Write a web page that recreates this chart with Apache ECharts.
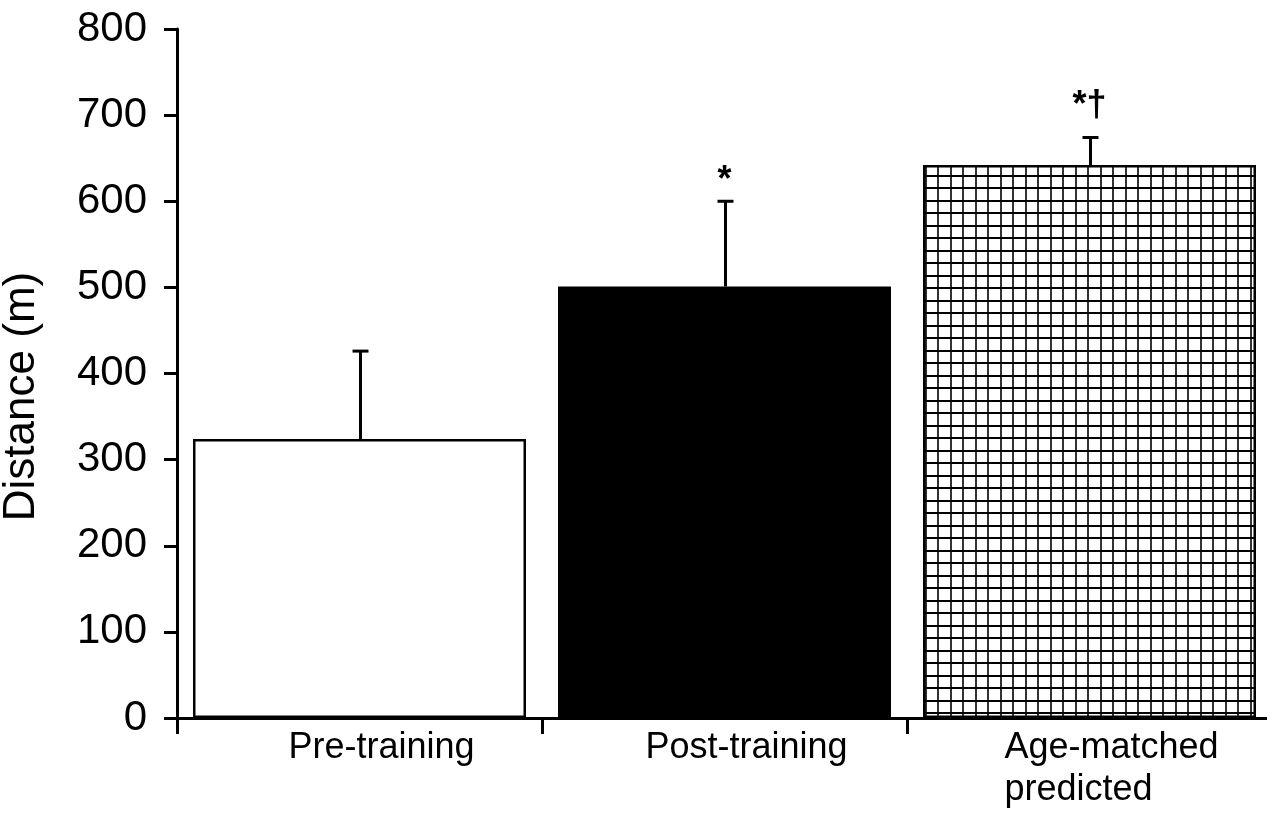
<!DOCTYPE html>
<html>
<head>
<meta charset="utf-8">
<script src="https://cdn.jsdelivr.net/npm/echarts@6/dist/echarts.min.js"></script>
<style>
html,body{margin:0;padding:0;background:#fff;}
#chart{width:1267px;height:813px;}
</style>
</head>
<body>
<div id="chart"></div>
<script>
const categories = ['Pre-training', 'Post-training', 'Age-matched\npredicted'];
const means = [324, 501, 642];
const upperErrors = [426, 600, 674];
const annotations = ['', '*', '*\u2020'];
const yTicks = [0, 100, 200, 300, 400, 500, 600, 700, 800];

// hatch pattern for third bar
const pat = document.createElement('canvas');
pat.width = 25; pat.height = 25;
const pc = pat.getContext('2d');
pc.fillStyle = '#fff'; pc.fillRect(0, 0, 25, 25);
pc.fillStyle = '#333';
pc.fillRect(0, 0, 2, 25); pc.fillRect(12, 0, 2, 25);
pc.fillStyle = '#000';
pc.fillRect(0, 0, 25, 2); pc.fillRect(0, 12, 25, 2);

const fills = ['#ffffff', '#000000', { image: pat, repeat: 'repeat' }];
const annotLift = [0, 2, 13];

const chart = echarts.init(document.getElementById('chart'));
const FONT = '"Liberation Sans", Arial, sans-serif';

chart.setOption({
  animation: false,
  backgroundColor: '#fff',
  grid: { left: 177, right: -5, top: 29, bottom: 95, containLabel: false, outerBoundsMode: 'none' },
  xAxis: {
    type: 'category',
    data: categories,
    axisLine: { lineStyle: { color: '#000', width: 3 } },
    axisTick: { show: true, length: 16, lineStyle: { color: '#000', width: 3 } },
    axisLabel: {
      margin: 9,
      padding: [0, 0, 0, 44],
      formatter: v => v.split('\n').map(s => '{a|' + s + '}').join('\n'),
      rich: { a: { fontFamily: FONT, fontSize: 36, color: '#000', align: 'left', lineHeight: 42 } }
    },
    splitLine: { show: false }
  },
  yAxis: {
    type: 'value',
    min: yTicks[0], max: yTicks[yTicks.length - 1], interval: 100,
    name: 'Distance (m)',
    nameLocation: 'middle',
    nameGap: 133,
    nameRotate: 90,
    nameTextStyle: { fontFamily: FONT, fontSize: 44, color: '#000', padding: [0, 46, 0, 0] },
    axisLine: { show: true, lineStyle: { color: '#000', width: 3 } },
    axisTick: { show: true, length: 13, lineStyle: { color: '#000', width: 3 } },
    axisLabel: { margin: 30, fontFamily: FONT, fontSize: 42, color: '#000' },
    splitLine: { show: false }
  },
  series: [
    {
      type: 'bar',
      barWidth: 333,
      data: means.map((v, i) => ({
        value: v,
        itemStyle: { color: fills[i], borderColor: '#000', borderWidth: 2.5 }
      })),
      z: 2
    },
    {
      type: 'custom',
      z: 3,
      data: means.map((v, i) => [i, v, upperErrors[i]]),
      renderItem: function (params, api) {
        const i = api.value(0);
        const base = api.coord([i, api.value(1)]);
        const top = api.coord([i, api.value(2)]);
        const x = base[0] + 1;
        const children = [
          { type: 'line', shape: { x1: x, y1: base[1], x2: x, y2: top[1] }, style: { stroke: '#000', lineWidth: 3 } },
          { type: 'line', shape: { x1: x - 8, y1: top[1], x2: x + 8, y2: top[1] }, style: { stroke: '#000', lineWidth: 3 } }
        ];
        const t = annotations[params.dataIndex];
        if (t) {
          children.push({
            type: 'text',
            style: {
              text: t, x: x - 1, y: top[1] - annotLift[params.dataIndex],
              align: 'center', verticalAlign: 'bottom',
              font: 'bold 36px ' + FONT, fill: '#000'
            }
          });
        }
        return { type: 'group', children: children };
      }
    }
  ]
});
</script>
</body>
</html>
